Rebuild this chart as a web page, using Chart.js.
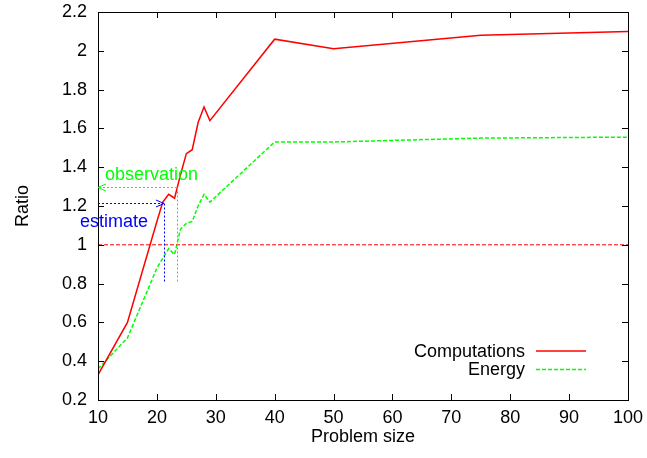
<!DOCTYPE html>
<html>
<head>
<meta charset="utf-8">
<script src="https://cdn.jsdelivr.net/npm/chart.js@4.4.0/dist/chart.umd.min.js"></script>
<style>
  html, body { margin: 0; padding: 0; background: #fff; }
  #wrap { width: 647px; height: 458px; }
</style>
</head>
<body>
<div id="wrap"><canvas id="ratio_chart"></canvas></div>
<script>
// values
const problemSize = [10, 15, 20, 21, 22, 23, 24, 25, 26, 27, 28, 29, 40, 50, 75, 100];
const computations = [0.33, 0.60, 1.12, 1.22, 1.26, 1.24, 1.36, 1.47, 1.49, 1.63, 1.71, 1.64, 2.06, 2.01, 2.08, 2.10];
const energy = [0.36, 0.52, 0.88, 0.93, 0.98, 0.95, 1.08, 1.11, 1.12, 1.20, 1.26, 1.22, 1.53, 1.53, 1.55, 1.555];
const referenceSize = [10, 100];
const referenceRatio = [1, 1];

// annotation arrows: [problem size, ratio]
const estimatePoint = [21.2, 1.217];
const observationPoint = [23.4, 1.296];
const markerBottom = 0.8;

const FONT = "'Liberation Sans', Arial, Helvetica, sans-serif";
const RED = "#ff0000";
const GREEN = "#00ff00";
const BLUE = "#0000ff";

const toPoints = (xs, ys) => xs.map((x, i) => ({ x: x, y: ys[i] }));

// gnuplot style frame: border on all sides with inward ticks
const framePlugin = {
  id: "frame",
  afterDatasetsDraw(chart) {
    const { ctx, chartArea: a, scales } = chart;
    const len = 6;
    ctx.save();
    ctx.strokeStyle = "#000";
    ctx.lineWidth = 1;
    ctx.beginPath();
    scales.x.ticks.forEach((t) => {
      const px = Math.round(scales.x.getPixelForValue(t.value)) + 0.5;
      ctx.moveTo(px, a.bottom);
      ctx.lineTo(px, a.bottom - len);
      ctx.moveTo(px, a.top);
      ctx.lineTo(px, a.top + len);
    });
    scales.y.ticks.forEach((t) => {
      const py = Math.round(scales.y.getPixelForValue(t.value)) + 0.5;
      ctx.moveTo(a.left, py);
      ctx.lineTo(a.left + len, py);
      ctx.moveTo(a.right, py);
      ctx.lineTo(a.right - len, py);
    });
    ctx.stroke();
    ctx.strokeRect(Math.round(a.left) + 0.5, Math.round(a.top) + 0.5,
      Math.round(a.right - a.left), Math.round(a.bottom - a.top));
    ctx.restore();
  },
};

function arrowHead(ctx, x, y, dir) {
  ctx.setLineDash([]);
  ctx.beginPath();
  ctx.moveTo(x - dir * 8, y - 3.5);
  ctx.lineTo(x, y);
  ctx.lineTo(x - dir * 8, y + 3.5);
  ctx.stroke();
}

const annotationPlugin = {
  id: "annotations",
  afterDatasetsDraw(chart) {
    const { ctx, scales } = chart;
    const x = scales.x, y = scales.y;
    const left = x.getPixelForValue(10);
    const bottom = y.getPixelForValue(markerBottom);
    ctx.save();
    ctx.lineWidth = 1;

    // estimate: from axis to the computations curve
    const ex = x.getPixelForValue(estimatePoint[0]);
    const ey = Math.round(y.getPixelForValue(estimatePoint[1])) + 0.5;
    ctx.strokeStyle = BLUE;
    ctx.setLineDash([2, 2]);
    ctx.beginPath();
    ctx.moveTo(left, ey);
    ctx.lineTo(ex, ey);
    ctx.moveTo(Math.round(ex) + 0.5, ey);
    ctx.lineTo(Math.round(ex) + 0.5, bottom);
    ctx.stroke();
    arrowHead(ctx, ex, ey, 1);

    // observation: from the curve back to the axis
    const ox = x.getPixelForValue(observationPoint[0]);
    const oy = Math.round(y.getPixelForValue(observationPoint[1])) + 0.5;
    ctx.strokeStyle = GREEN;
    ctx.setLineDash([2, 2]);
    ctx.beginPath();
    ctx.moveTo(ox, oy);
    ctx.lineTo(left, oy);
    ctx.moveTo(Math.round(ox) + 0.5, oy);
    ctx.lineTo(Math.round(ox) + 0.5, bottom);
    ctx.stroke();
    arrowHead(ctx, left, oy, -1);

    ctx.font = "18px " + FONT;
    ctx.textAlign = "left";
    ctx.textBaseline = "alphabetic";
    ctx.fillStyle = GREEN;
    ctx.fillText("observation", left + 7, oy - 8);
    ctx.fillStyle = BLUE;
    ctx.fillText("estimate", left - 18, ey + 23);
    ctx.restore();
  },
};

// legend: label right aligned, line sample on the right
const legendPlugin = {
  id: "sampleLegend",
  afterDraw(chart) {
    const { ctx, chartArea: a } = chart;
    const textRight = a.right - 103;
    const lineStart = a.right - 92;
    const lineEnd = a.right - 42;
    let rowY = a.bottom - 49;
    ctx.save();
    ctx.font = "18px " + FONT;
    ctx.textAlign = "right";
    ctx.textBaseline = "middle";
    chart.data.datasets.forEach((ds) => {
      if (!ds.label) return;
      ctx.fillStyle = "#000";
      ctx.fillText(ds.label, textRight, rowY + 1);
      ctx.strokeStyle = ds.borderColor;
      ctx.lineWidth = ds.borderWidth;
      ctx.setLineDash(ds.borderDash || []);
      ctx.beginPath();
      ctx.moveTo(lineStart, rowY);
      ctx.lineTo(lineEnd, rowY);
      ctx.stroke();
      rowY += 18.5;
    });
    ctx.restore();
  },
};

const ctx = document.getElementById("ratio_chart").getContext("2d");
new Chart(ctx, {
  type: "line",
  data: {
    datasets: [
      {
        label: "",
        data: toPoints(referenceSize, referenceRatio),
        borderColor: RED,
        borderWidth: 1,
        borderDash: [4, 2],
        pointRadius: 0,
        tension: 0,
      },
      {
        label: "Computations",
        data: toPoints(problemSize, computations),
        borderColor: RED,
        borderWidth: 1.5,
        pointRadius: 0,
        tension: 0,
      },
      {
        label: "Energy",
        data: toPoints(problemSize, energy),
        borderColor: GREEN,
        borderWidth: 1.5,
        borderDash: [4, 2],
        pointRadius: 0,
        tension: 0,
      },
    ],
  },
  options: {
    responsive: true,
    maintainAspectRatio: false,
    animation: false,
    layout: { padding: { left: 0, top: 12, right: 19, bottom: 0 } },
    plugins: {
      legend: { display: false },
      tooltip: { enabled: false },
    },
    scales: {
      x: {
        type: "linear",
        min: 10,
        max: 100,
        // tick marks are drawn by the frame plugin; tickLength only spaces the labels
        grid: { display: false, drawTicks: true, tickLength: 7 },
        border: { display: false },
        ticks: {
          stepSize: 10,
          autoSkip: false,
          maxRotation: 0,
          padding: 0,
          color: "#000",
          font: { family: FONT, size: 18 },
        },
        title: {
          display: true,
          text: "Problem size",
          color: "#000",
          font: { family: FONT, size: 18 },
          padding: { top: 0, bottom: 10 },
        },
        afterFit(scale) { scale.height = 58; },
      },
      y: {
        min: 0.2,
        max: 2.2,
        grid: { display: false, drawTicks: true, tickLength: 11 },
        border: { display: false },
        ticks: {
          stepSize: 0.2,
          padding: 0,
          color: "#000",
          font: { family: FONT, size: 18 },
          callback: (v) => String(+v.toFixed(1)),
        },
        title: {
          display: true,
          text: "Ratio",
          color: "#000",
          font: { family: FONT, size: 18 },
          padding: { top: 12, bottom: 0 },
        },
        afterFit(scale) { scale.width = 98; },
      },
    },
  },
  plugins: [framePlugin, annotationPlugin, legendPlugin],
});
</script>
</body>
</html>
